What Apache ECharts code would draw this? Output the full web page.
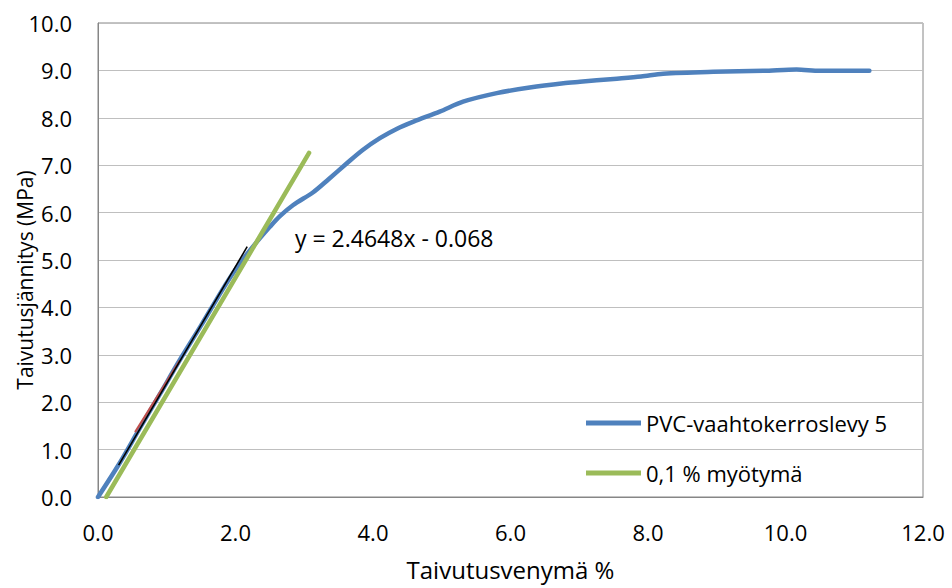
<!DOCTYPE html>
<html>
<head>
<meta charset="utf-8">
<script src="https://cdn.jsdelivr.net/npm/echarts@6/dist/echarts.min.js"></script>
<style>
html,body{margin:0;padding:0;background:#fff;}
#c{width:952px;height:588px;}
</style>
</head>
<body>
<div id="c"></div>
<script>
// Data
var xTicks = [0, 2, 4, 6, 8, 10, 12];
var yTicks = [0, 1, 2, 3, 4, 5, 6, 7, 8, 9, 10];
var pvcName = 'PVC-vaahtokerroslevy 5';
var yieldName = '0,1 % myötymä';
var pvcCurve = [
  [0, 0], [0.3, 0.68], [0.6, 1.43], [0.9, 2.17], [1.19, 2.89], [1.5, 3.62],
  [1.8, 4.35], [2.0, 4.8], [2.18, 5.15], [2.35, 5.45], [2.5, 5.7], [2.65, 5.93],
  [2.84, 6.16], [3.13, 6.43], [3.35, 6.7], [3.62, 7.04], [3.85, 7.32], [4.1, 7.57],
  [4.35, 7.77], [4.59, 7.92], [4.97, 8.13], [5.31, 8.34], [5.8, 8.52], [6.28, 8.64],
  [6.77, 8.73], [7.01, 8.76], [7.5, 8.82], [7.9, 8.87], [8.22, 8.93], [8.95, 8.97],
  [9.68, 8.99], [10.16, 9.02], [10.5, 8.99], [11.22, 8.99]
];
var yieldLine = [[0.12, 0], [3.07, 7.26]];
var fitRange = [[0.54, 1.37], [1.19, 2.88]];
var trendSlope = 2.4648;
var trendIntercept = -0.068;
var trendX = [0.3, 2.17];
var equationText = 'y = 2.4648x - 0.068';
var xTitle = 'Taivutusvenymä %';
var yTitle = 'Taivutusjännitys (MPa)';

var trendLine = trendX.map(function (x) { return [x, trendSlope * x + trendIntercept]; });

var FONT = '"Open Sans", "Noto Sans", sans-serif';
var chart = echarts.init(document.getElementById('c'), null, {renderer: 'svg'});
chart.setOption({
  animation: false,
  backgroundColor: '#ffffff',
  grid: {left: 98, right: 29, top: 23, bottom: 91, show: true, borderColor: '#868686', borderWidth: 1,
         containLabel: false, outerBoundsMode: 'none'},
  xAxis: {
    type: 'value', min: xTicks[0], max: xTicks[xTicks.length - 1], interval: 2,
    axisLine: {show: true, lineStyle: {color: '#868686', width: 1}},
    axisTick: {show: false},
    splitLine: {show: false},
    axisLabel: {margin: 24, color: '#000', fontFamily: FONT, fontSize: 22, formatter: function (v) { return v.toFixed(1); }},
    name: xTitle, nameLocation: 'middle', nameGap: 60,
    nameTextStyle: {color: '#000', fontFamily: FONT, fontSize: 24}
  },
  yAxis: {
    type: 'value', min: yTicks[0], max: yTicks[yTicks.length - 1], interval: 1,
    axisLine: {show: true, lineStyle: {color: '#868686', width: 1}},
    axisTick: {show: false},
    splitLine: {show: true, lineStyle: {color: '#bfbfbf', width: 1}},
    axisLabel: {margin: 26, color: '#000', fontFamily: FONT, fontSize: 22, formatter: function (v) { return v.toFixed(1); }}
  },
  legend: {
    data: [pvcName, yieldName],
    orient: 'vertical', left: 581, top: 407,
    icon: 'rect', itemWidth: 55, itemHeight: 5, itemGap: 28,
    textStyle: {color: '#000', fontFamily: FONT, fontSize: 22}
  },
  graphic: [{
    type: 'text', left: 295, top: 226, silent: true,
    style: {text: equationText, fill: '#000', font: '23px ' + FONT}
  }, {
    type: 'text', x: 25, y: 280, rotation: Math.PI / 2, silent: true,
    style: {text: yTitle, fill: '#000', font: '21px ' + FONT, align: 'center', verticalAlign: 'middle'}
  }],
  series: [
    {name: pvcName, type: 'line', data: pvcCurve, symbol: 'none', smooth: 0.3,
     lineStyle: {color: '#4F81BD', width: 4.5, cap: 'round', join: 'round'}, itemStyle: {color: '#4F81BD'}, z: 2},
    {name: yieldName, type: 'line', data: yieldLine, symbol: 'none',
     lineStyle: {color: '#9BBB59', width: 4.5, cap: 'round'}, itemStyle: {color: '#9BBB59'}, z: 3},
    {name: 'fit range', type: 'line', data: fitRange, symbol: 'none',
     lineStyle: {color: '#C0504D', width: 2.2}, z: 4},
    {name: 'trend', type: 'line', data: trendLine, symbol: 'none',
     lineStyle: {color: '#000000', width: 1.6}, z: 5}
  ]
});
</script>
</body>
</html>
